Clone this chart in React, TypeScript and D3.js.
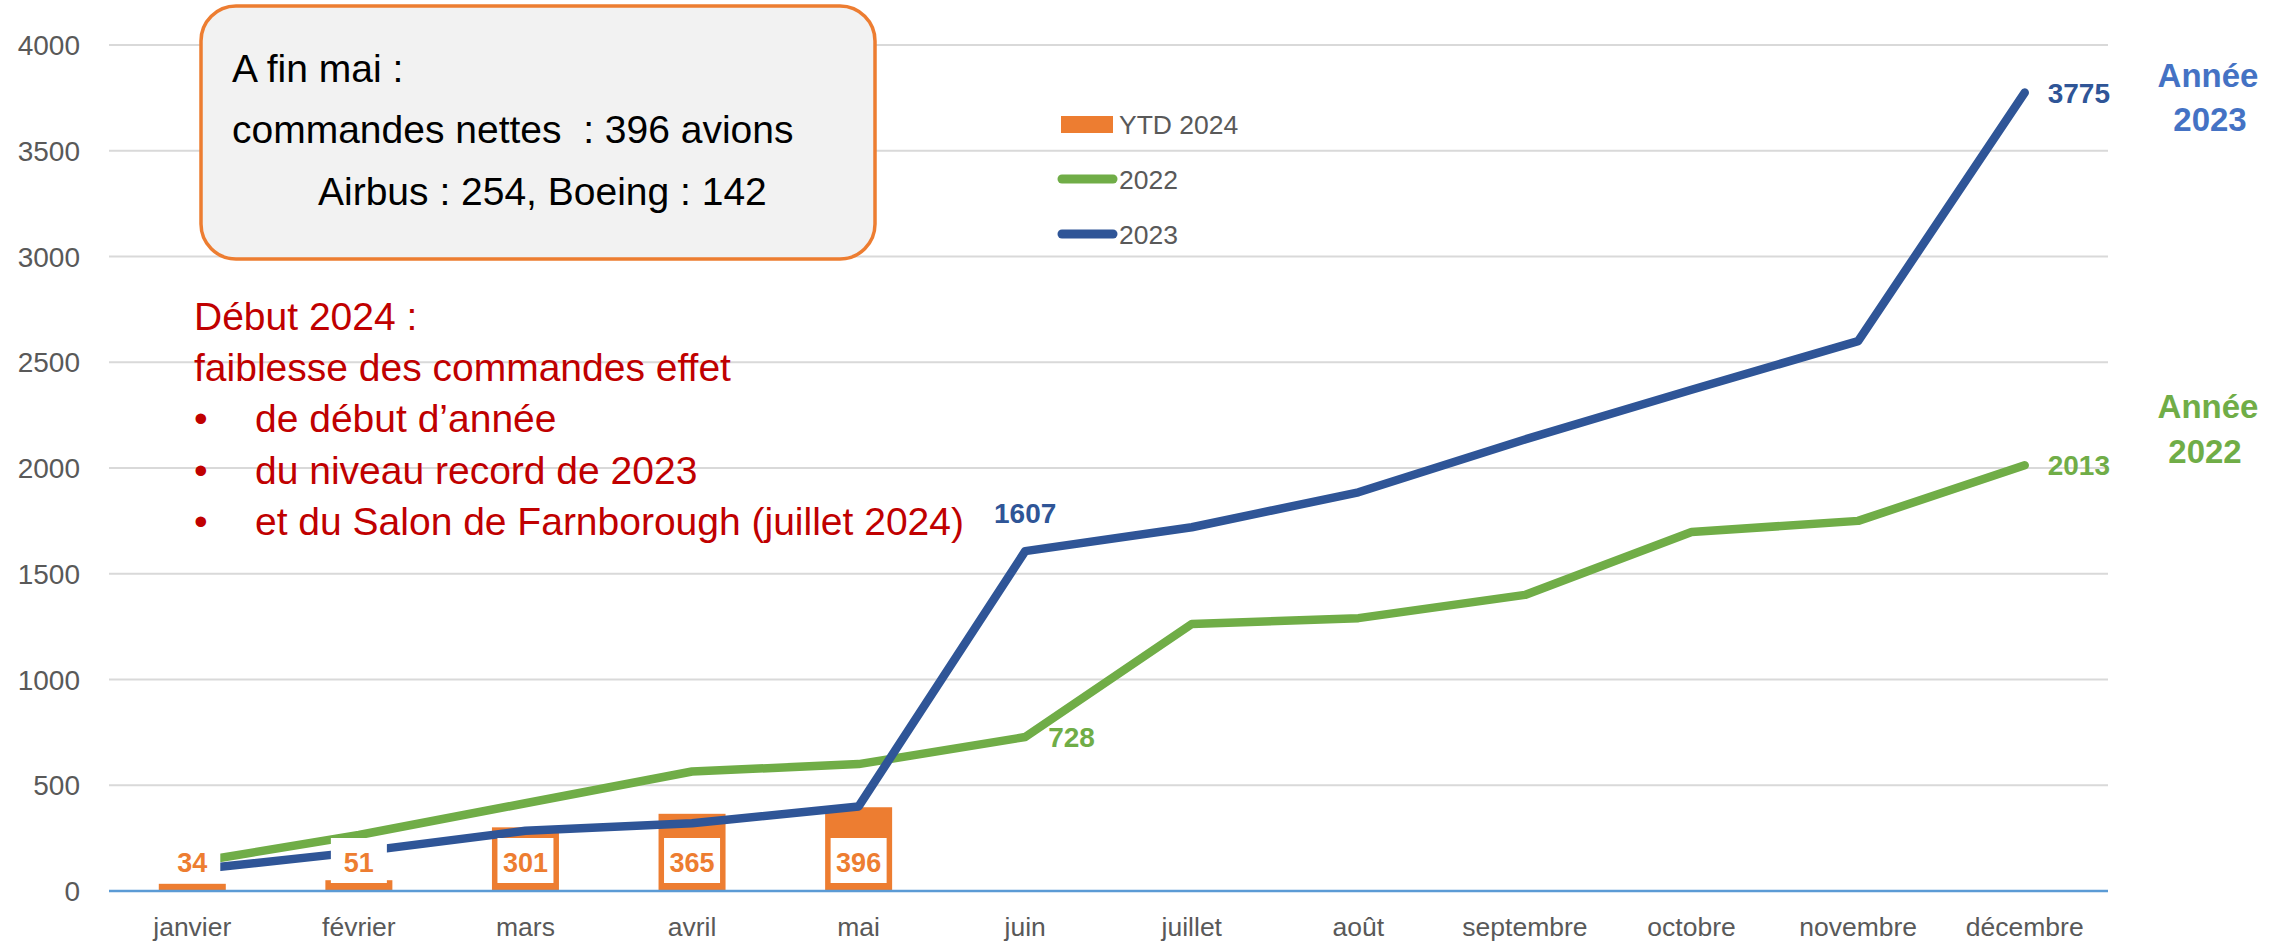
import React from 'react';
import * as d3 from 'd3';

const months = ['janvier', 'février', 'mars', 'avril', 'mai', 'juin', 'juillet', 'août', 'septembre', 'octobre', 'novembre', 'décembre'];
const ytd2024 = [34, 51, 301, 365, 396];
const orders2022 = [135, 265, 415, 565, 600, 728, 1262, 1290, 1400, 1697, 1750, 2013];
const orders2023 = [100, 185, 285, 320, 400, 1607, 1720, 1885, 2135, 2370, 2600, 3775];
const yTicks = [0, 500, 1000, 1500, 2000, 2500, 3000, 3500, 4000];
const legendItems = [
  { label: 'YTD 2024', kind: 'bar', color: '#ED7D31' },
  { label: '2022', kind: 'line', color: '#70AD47' },
  { label: '2023', kind: 'line', color: '#2F5597' },
];
const boxLines = ['A fin mai :', 'commandes nettes  : 396 avions', 'Airbus : 254, Boeing : 142'];
const noteTitle = ['Début 2024 :', 'faiblesse des commandes effet'];
const noteBullets = ['de début d\u2019année', 'du niveau record de 2023', 'et du Salon de Farnborough (juillet 2024)'];
const labels2023 = [5, 11];
const labels2022 = [5, 11];

const FONT = "'Liberation Sans', Arial, sans-serif";
const C_ORANGE = '#ED7D31';
const C_GREEN = '#70AD47';
const C_BLUE = '#2F5597';
const C_RED = '#C00000';

export default function App() {
  const W = 2276, H = 943;
  const x = d3.scaleBand<string>().domain(months).range([109, 2108]).padding(0);
  const y = d3.scaleLinear().domain([0, 4000]).range([891, 45]);
  const cx = (i: number) => (x(months[i]) as number) + x.bandwidth() / 2;
  const line = d3.line<number>().x((_, i) => cx(i)).y((d) => y(d));
  const barW = 67;
  const [x0, x1] = x.range();

  return (
    <svg width={W} height={H} style={{ position: 'absolute', left: 0, top: 0, display: 'block', background: '#fff' }} fontFamily={FONT}>
      {/* gridlines */}
      {yTicks.filter((t) => t > 0).map((t) => (
        <line key={t} x1={x0} x2={x1} y1={y(t)} y2={y(t)} stroke="#D9D9D9" strokeWidth={2} />
      ))}
      {/* y tick labels */}
      {yTicks.map((t) => (
        <text key={'yt' + t} x={80} y={y(t)} dy="0.36em" textAnchor="end" fontSize={28} fill="#595959">{t}</text>
      ))}
      {/* bars */}
      {ytd2024.map((v, i) => (
        <rect key={'b' + i} x={cx(i) - barW / 2} y={y(v)} width={barW} height={y(0) - y(v)} fill={C_ORANGE} />
      ))}
      {/* baseline */}
      <line x1={x0} x2={x1} y1={y(0)} y2={y(0)} stroke="#5B9BD5" strokeWidth={2.5} />
      {/* month labels */}
      {months.map((m, i) => (
        <text key={m} x={cx(i)} y={936} textAnchor="middle" fontSize={26.5} fill="#595959">{m}</text>
      ))}
      {/* lines */}
      <path d={line(orders2022) || ''} fill="none" stroke={C_GREEN} strokeWidth={8.5} strokeLinecap="round" strokeLinejoin="round" />
      <path d={line(orders2023) || ''} fill="none" stroke={C_BLUE} strokeWidth={8.5} strokeLinecap="round" strokeLinejoin="round" />
      {/* bar labels */}
      {ytd2024.map((v, i) => (
        <g key={'bl' + i}>
          <rect x={cx(i) - 28} y={838} width={56} height={45} fill="#fff" />
          <text x={cx(i)} y={872} textAnchor="middle" fontSize={27} fontWeight="bold" fill={C_ORANGE}>{v}</text>
        </g>
      ))}
      {/* line labels */}
      {labels2023.map((i) => (
        i === 11 ? (
          <text key={'l23' + i} x={cx(i) + 23} y={y(orders2023[i]) + 10} fontSize={28} fontWeight="bold" fill={C_BLUE}>{orders2023[i]}</text>
        ) : (
          <text key={'l23' + i} x={cx(i)} y={y(orders2023[i]) - 28} textAnchor="middle" fontSize={28} fontWeight="bold" fill={C_BLUE}>{orders2023[i]}</text>
        )
      ))}
      {labels2022.map((i) => (
        <text key={'l22' + i} x={cx(i) + 23} y={y(orders2022[i]) + 10} fontSize={28} fontWeight="bold" fill={C_GREEN}>{orders2022[i]}</text>
      ))}
      {/* legend */}
      {legendItems.map((it, k) => {
        const ly = 124.5 + k * 55;
        return (
          <g key={it.label}>
            {it.kind === 'bar' ? (
              <rect x={1061} y={ly - 8.5} width={52} height={17} fill={it.color} />
            ) : (
              <line x1={1062} x2={1113} y1={ly - 0.5} y2={ly - 0.5} stroke={it.color} strokeWidth={9} strokeLinecap="round" />
            )}
            <text x={1119} y={ly + 9.5} fontSize={26.5} fill="#595959">{it.label}</text>
          </g>
        );
      })}
      {/* info box */}
      <rect x={201} y={6} width={674} height={253} rx={35} ry={35} fill="#F2F2F2" stroke={C_ORANGE} strokeWidth={3.5} />
      {boxLines.map((s, k) => (
        <text key={'bx' + k} x={k === 2 ? 318 : 232} y={[82, 143, 205][k]} fontSize={39} fill="#000" style={{ whiteSpace: 'pre' }}>{s}</text>
      ))}
      {/* red note */}
      {noteTitle.map((s, k) => (
        <text key={'nt' + k} x={194} y={330 + k * 51} fontSize={39} fill={C_RED}>{s}</text>
      ))}
      {noteBullets.map((s, k) => (
        <g key={'nb' + k}>
          <text x={194} y={432 + k * 51.5} fontSize={39} fill={C_RED}>{'\u2022'}</text>
          <text x={255} y={432 + k * 51.5} fontSize={39} fill={C_RED}>{s}</text>
        </g>
      ))}
      {/* year annotations */}
      <text x={2208} y={87} textAnchor="middle" fontSize={33} fontWeight="bold" fill="#4472C4">Année</text>
      <text x={2210} y={131} textAnchor="middle" fontSize={33} fontWeight="bold" fill="#4472C4">2023</text>
      <text x={2208} y={418} textAnchor="middle" fontSize={33} fontWeight="bold" fill={C_GREEN}>Année</text>
      <text x={2205} y={463} textAnchor="middle" fontSize={33} fontWeight="bold" fill={C_GREEN}>2022</text>
    </svg>
  );
}
